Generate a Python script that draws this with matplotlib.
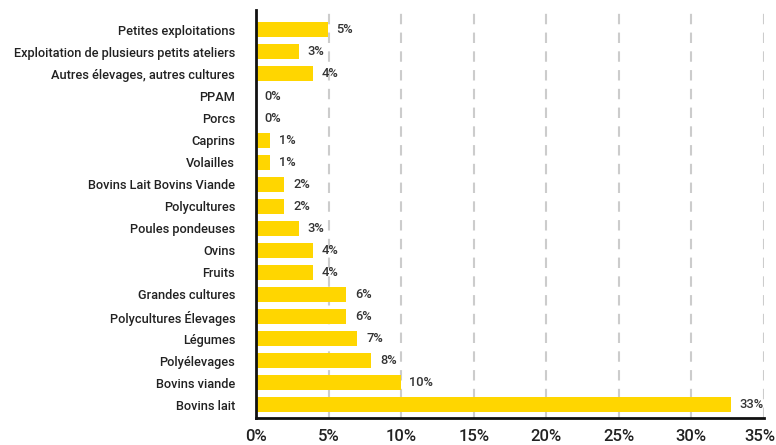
import matplotlib.pyplot as plt
import matplotlib.transforms as mtransforms
import numpy as np

plt.rcParams['font.family'] = ['Roboto', 'DejaVu Sans']

categories = ['Petites exploitations', 'Exploitation de plusieurs petits ateliers',
              'Autres élevages, autres cultures', 'PPAM', 'Porcs', 'Caprins', 'Volailles',
              'Bovins Lait Bovins Viande', 'Polycultures', 'Poules pondeuses', 'Ovins',
              'Fruits', 'Grandes cultures', 'Polycultures Élevages', 'Légumes',
              'Polyélevages', 'Bovins viande', 'Bovins lait']
values = [4.95, 2.95, 3.9, 0, 0, 0.98, 0.98, 1.95, 1.95, 2.95, 3.9, 3.9,
          6.2, 6.2, 6.98, 7.95, 9.96, 32.7]
xticks = [0, 5, 10, 15, 20, 25, 30, 35]

fig = plt.figure(figsize=(7.76, 4.45), dpi=100)
ax = fig.add_axes([0.33, 0.0607, 0.6545, 0.9168])

y = np.arange(len(categories))[::-1]
ax.barh(y, values, height=0.68, color='#FFD600', zorder=3)

for yi, v in zip(y, values):
    ax.text(v + 0.6, yi, f'{round(v)}%', va='center', ha='left',
            fontsize=9.3, fontweight='medium', color='#333333', zorder=4)

ax.set_yticks(y)
ax.set_yticklabels(categories, fontsize=9.2, fontweight='medium', color='#222222')
ax.set_xticks(xticks)
ax.set_xticklabels([f'{t}%' for t in xticks], fontsize=12, fontweight='medium', color='#222222')
ax.set_xlim(0, 35)
ax.set_ylim(-0.6, len(categories) - 0.1)

ax.tick_params(axis='both', length=0)
ax.tick_params(axis='y', pad=15)
ax.tick_params(axis='x', pad=8)

# nudge the last tick label so it stays inside the figure
last = ax.get_xticklabels()[-1]
last.set_transform(last.get_transform() + mtransforms.ScaledTranslation(-0.04, 0, fig.dpi_scale_trans))

ax.xaxis.grid(True, linestyle=(0, (5, 4)), color='#cccccc', linewidth=1.5, zorder=0)
ax.set_axisbelow(True)

for s in ['top', 'right']:
    ax.spines[s].set_visible(False)
for s in ['left', 'bottom']:
    ax.spines[s].set_color('#111111')
    ax.spines[s].set_linewidth(2)
    ax.spines[s].set_zorder(5)

plt.savefig('out.png', dpi=100)
